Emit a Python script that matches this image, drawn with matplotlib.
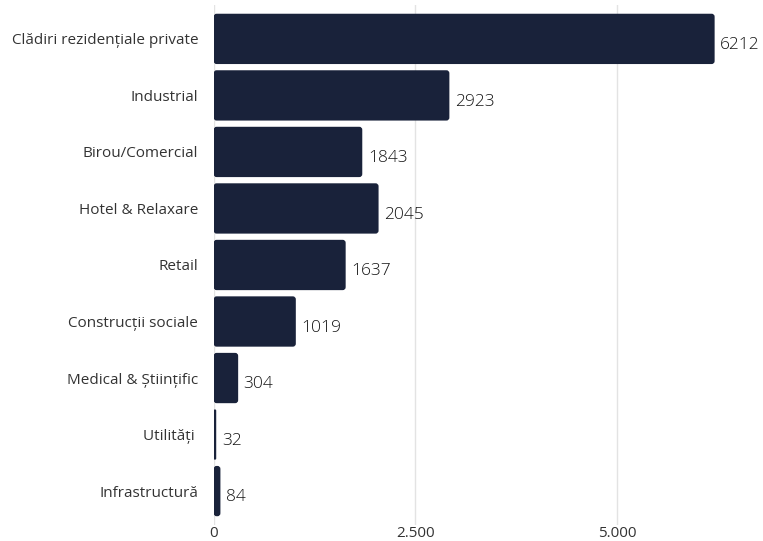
import matplotlib.pyplot as plt
from matplotlib.patches import FancyBboxPatch
from matplotlib.ticker import FuncFormatter

categories = [
    "Clădiri rezidențiale private",
    "Industrial",
    "Birou/Comercial",
    "Hotel & Relaxare",
    "Retail",
    "Construcții sociale",
    "Medical & Științific",
    "Utilități ",
    "Infrastructură",
]
values = [6212, 2923, 1843, 2045, 1637, 1019, 304, 32, 84]
xticks = [0, 2500, 5000]

plt.rcParams['font.family'] = ['Open Sans', 'DejaVu Sans']

fig = plt.figure(figsize=(7.63, 5.41), dpi=100)
ax = fig.add_axes([0.280, 0.0296, 0.716, 0.9612])

ypos = list(range(len(categories)))
bars = ax.barh(ypos, values, height=0.89, color='#19223a', zorder=3)

# swap the plain rectangles for ones with slightly rounded corners
for b in bars:
    x0, y0 = b.get_x(), b.get_y()
    w, h = b.get_width(), b.get_height()
    r = min(37, w / 2)
    fb = FancyBboxPatch((x0, y0), w, h, boxstyle=f"round,pad=0,rounding_size={r}",
                        mutation_aspect=0.00143, facecolor='#19223a',
                        edgecolor='none', zorder=3)
    b.set_visible(False)
    ax.add_patch(fb)

for y, v in zip(ypos, values):
    ax.annotate(str(v), (v, y), xytext=(4, -4.5), textcoords='offset points',
                ha='left', va='center', fontsize=12.5, color='#151515',
                fontweight='light')

ax.set_ylim(8.6, -0.6)
ax.set_xlim(0, 6774)
ax.set_yticks(ypos)
ax.set_yticklabels(categories, fontsize=11, color='#333333')
ax.set_xticks(xticks)
ax.xaxis.set_major_formatter(FuncFormatter(lambda x, p: f"{int(x):,}".replace(",", ".")))
ax.tick_params(axis='x', labelsize=11, labelcolor='#333333', length=0, pad=1)
ax.tick_params(axis='y', length=0, pad=11)
ax.grid(axis='x', color='#e3e3e3', linewidth=1, zorder=0)
for s in ax.spines.values():
    s.set_visible(False)

fig.savefig("out.png", dpi=100)
